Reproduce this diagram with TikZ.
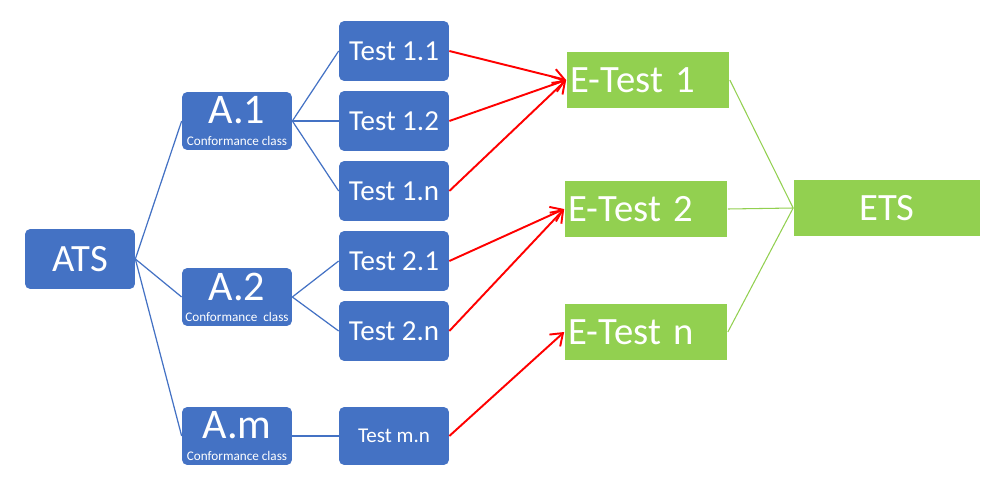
\documentclass[tikz,border=0pt]{standalone}
\usepackage{fontspec}
\setmainfont{Carlito}
\definecolor{atsblue}{RGB}{68,114,196}
\definecolor{etsgreen}{RGB}{146,208,80}
\usetikzlibrary{arrows.meta,positioning}

\begin{document}
\begin{tikzpicture}[x=0.02cm,y=-0.02cm,
        box/.style={fill=atsblue,rounded corners=3pt,text=white,inner sep=0pt,
          minimum width=2.2cm,minimum height=1.2cm,font=\fontsize{16.5}{18}\selectfont},
        abox/.style={box,minimum height=1.16cm,align=center},
        ebox/.style={fill=etsgreen,text=white,inner ysep=0pt,inner xsep=0.08cm,
          text width=3.1cm,align=left,minimum height=1.12cm,font=\fontsize{22}{24}\selectfont},
        link/.style={atsblue,line width=0.7pt},
        arr/.style={red,line width=1.1pt,-{Straight Barb[length=2.2mm,width=3.2mm]}},
        glink/.style={etsgreen,line width=0.6pt}]
        \useasboundingbox (0,0) rectangle (992,484);
        % blue tree
        \node[box,font=\fontsize{22}{24}\selectfont] (ats) at (80,259) {ATS};
        \node[abox] (a1) at (237,121) {\fontsize{24}{24}\selectfont A.1\\[-6pt]\fontsize{7.5}{8}\selectfont Conformance class};
        \node[abox] (a2) at (237,297) {\fontsize{24}{24}\selectfont A.2\\[-6pt]\fontsize{7.5}{8}\selectfont Conformance\ \ class};
        \node[abox] (am) at (237,436) {\fontsize{24}{24}\selectfont A.m\\[-6pt]\fontsize{7.5}{8}\selectfont Conformance class};
        \node[box] (t11) at (394,51) {Test 1.1};
        \node[box] (t12) at (394,121) {Test 1.2};
        \node[box] (t1n) at (394,191) {Test 1.n};
        \node[box] (t21) at (394,261) {Test 2.1};
        \node[box] (t2n) at (394,331) {Test 2.n};
        \node[box,minimum height=1.16cm,font=\fontsize{12}{14}\selectfont] (tmn) at (394,436) {Test m.n};
        % green side
        \node[ebox] (e1) at (648,80) {E-Test 1};
        \node[ebox] (e2) at (646,209) {E-Test 2};
        \node[ebox] (en) at (646,332) {E-Test n};
        \node[ebox,text width=3.74cm,inner xsep=0pt,align=center] (ets) at (887,208) {ETS};
        \draw[link] (ats.east)--(a1.west); \draw[link] (ats.east)--(a2.west);
        \draw[link] (ats.east)--(am.west);
        \draw[link] (a1.east)--(t11.west); \draw[link] (a1.east)--(t12.west);
        \draw[link] (a1.east)--(t1n.west);
        \draw[link] (a2.east)--(t21.west); \draw[link] (a2.east)--(t2n.west);
        \draw[link] (am.east)--(tmn.west);
        \draw[arr] (t11.east)--(e1.west); \draw[arr] (t12.east)--(e1.west);
        \draw[arr] (t1n.east)--(e1.west);
        \draw[arr] (t21.east)--(e2.west); \draw[arr] (t2n.east)--(e2.west);
        \draw[arr] (tmn.east)--(en.west);
        \draw[glink] (e1.east)--(ets.west); \draw[glink] (e2.east)--(ets.west);
        \draw[glink] (en.east)--(ets.west);
      \end{tikzpicture}
\end{document}
